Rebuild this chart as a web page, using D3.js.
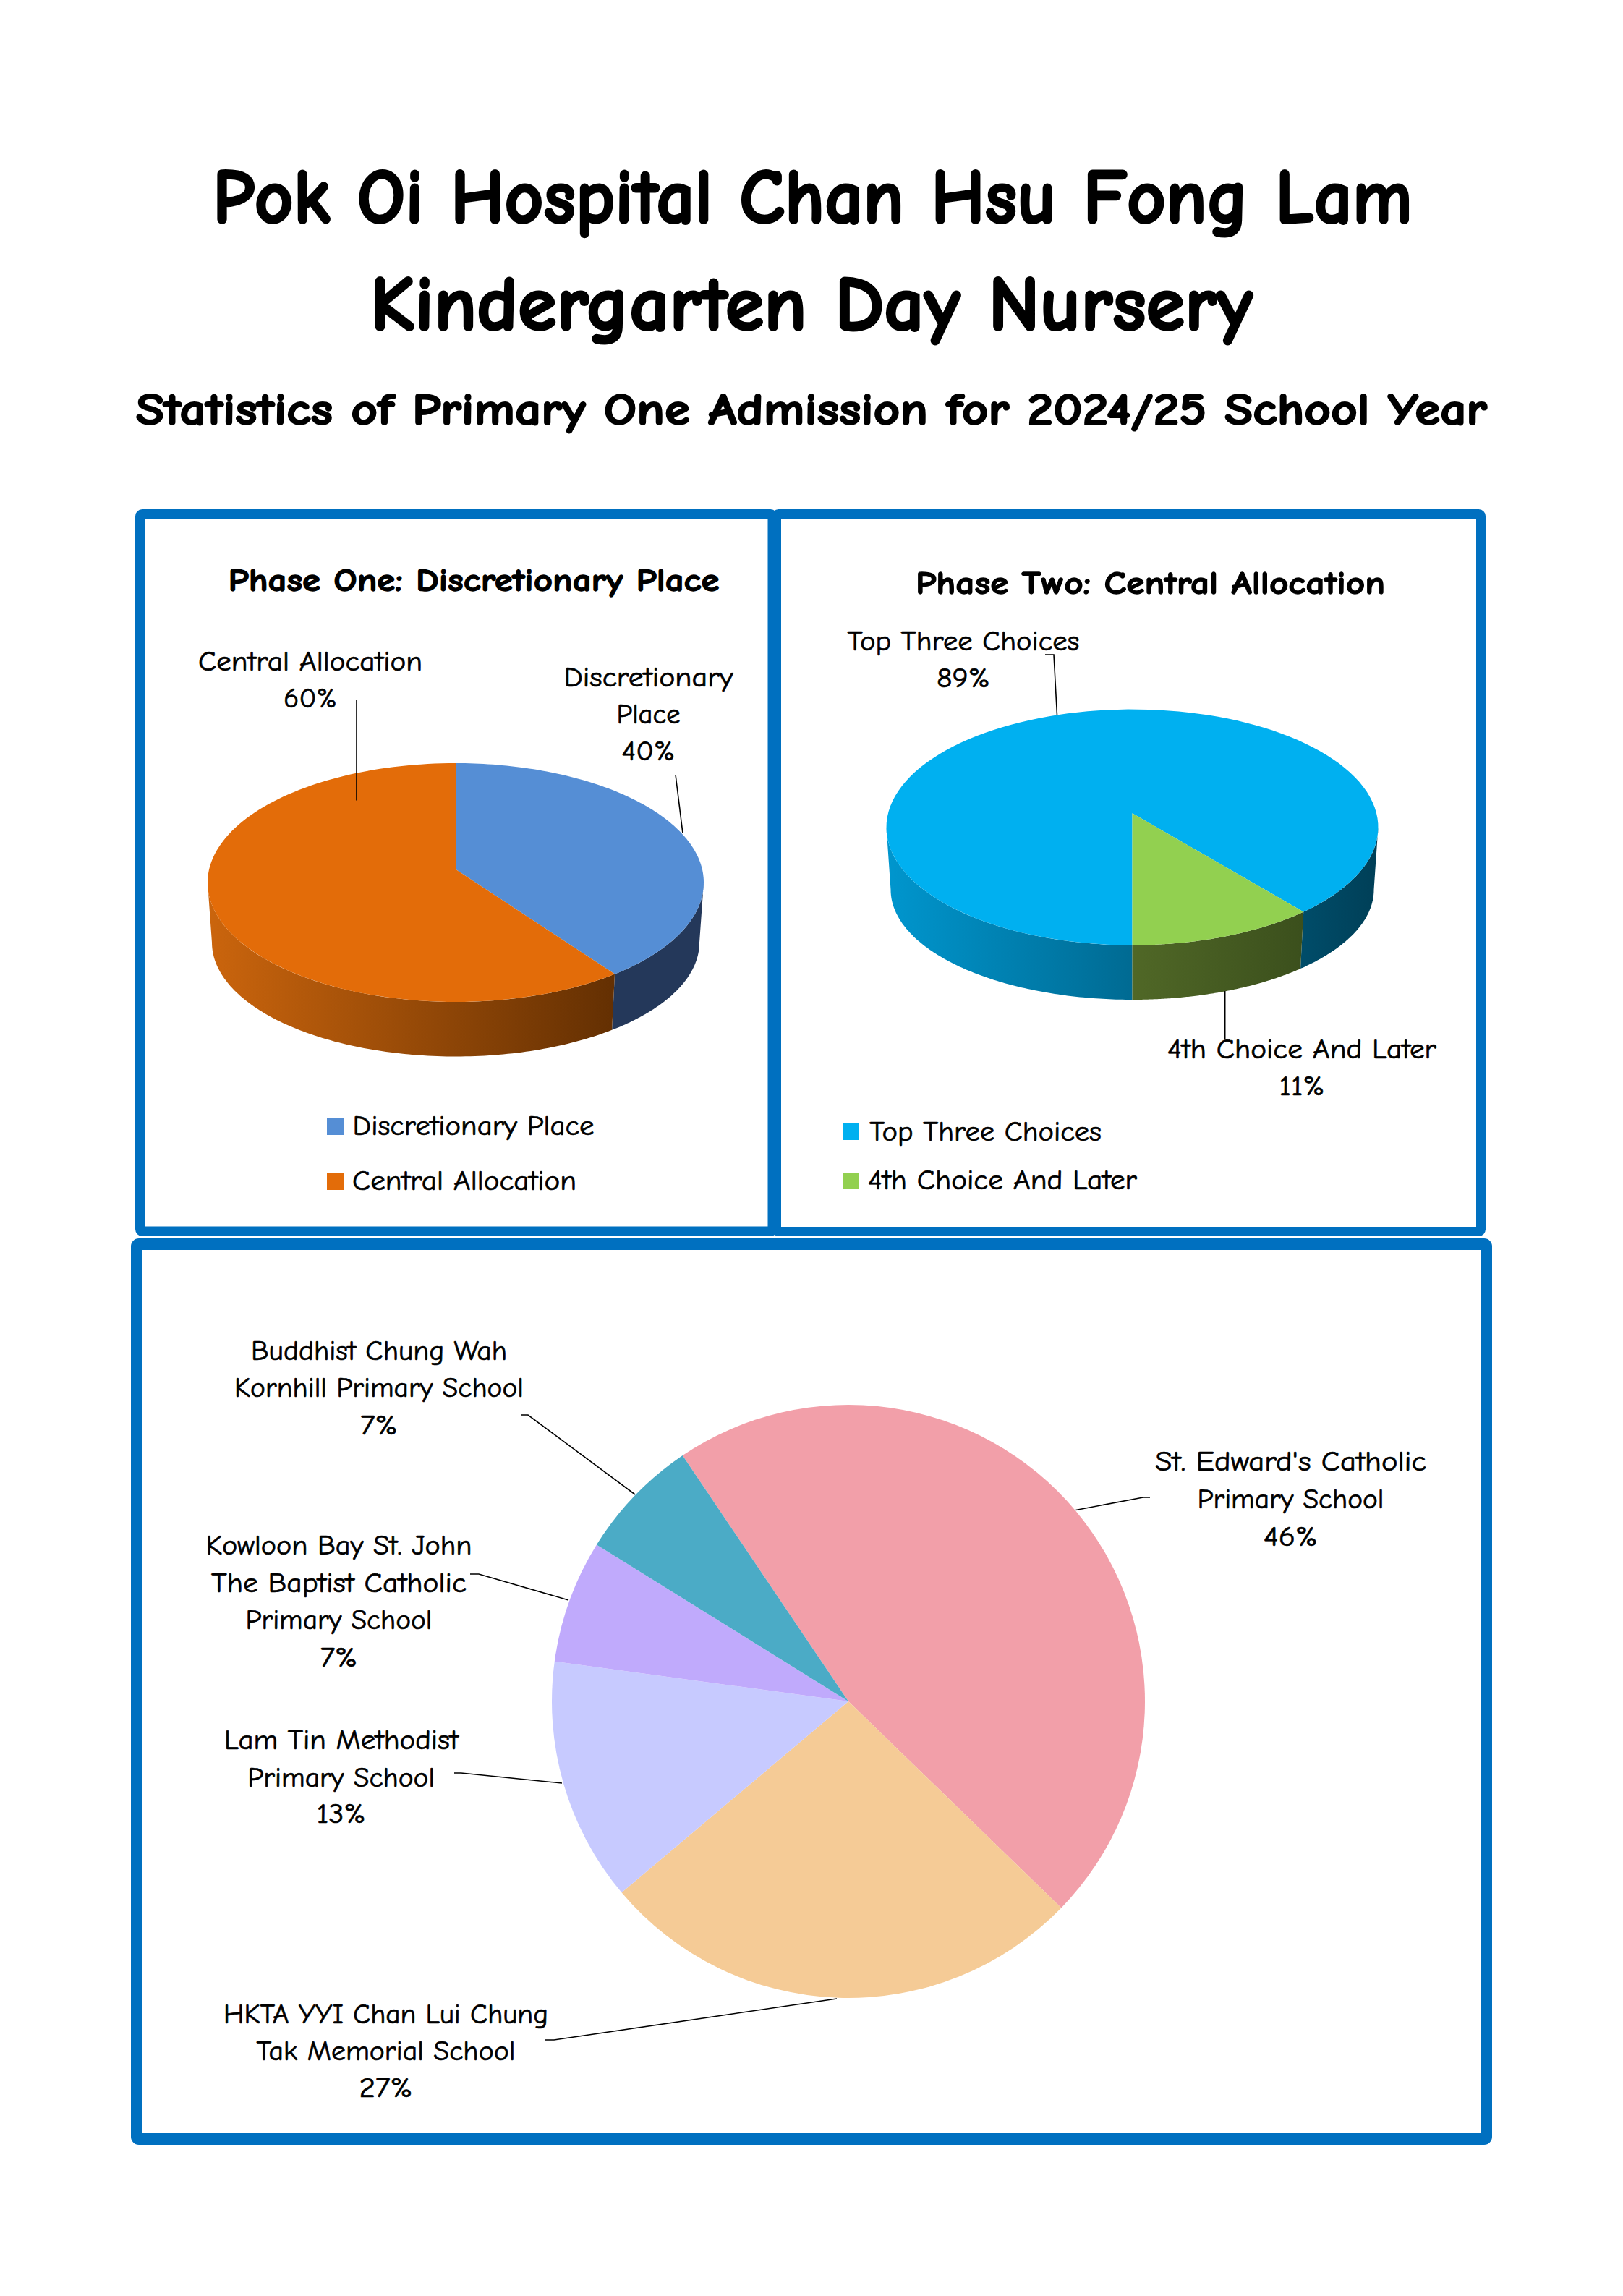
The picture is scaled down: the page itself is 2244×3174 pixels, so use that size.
<!DOCTYPE html>
<html>
<head>
<meta charset="utf-8">
<script src="https://cdn.jsdelivr.net/npm/d3@7/dist/d3.min.js"></script>
<style>
html,body{margin:0;padding:0;background:#fff}
svg{display:block}
text{font-family:"Comic Sans MS","Comic Neue","Open Sans",sans-serif;fill:#000}
</style>
</head>
<body>
<script>
// ---------- data ----------
const phaseOneCategories = ["Discretionary Place", "Central Allocation"];
const phaseOneValues = [40, 60];
const phaseOneLabels = ["40%", "60%"];
const phaseTwoCategories = ["Top Three Choices", "4th Choice And Later"];
const phaseTwoValues = [89, 11];
const phaseTwoLabels = ["89%", "11%"];
const schoolCategories = ["St. Edward's Catholic Primary School", "HKTA YYI Chan Lui Chung Tak Memorial School", "Lam Tin Methodist Primary School", "Kowloon Bay St. John The Baptist Catholic Primary School", "Buddhist Chung Wah Kornhill Primary School"];
const schoolValues = [46.7, 26.6, 13.3, 6.7, 6.7];
const schoolLabels = ["46%", "27%", "13%", "7%", "7%"];

// ---------- styles ----------
const BLUE = "#0070c0";
const phaseOneColors = ["#558ed5", "#e36c09"];
const phaseOneSides = [["#24385a", "#24385a"], ["#cb650d", "#4d2400"]];
const phaseTwoColors = ["#00b0f0", "#92d050"];
const phaseTwoSides = [["#0096ce", "#003f57"], ["#6e8a35", "#324518"]];
const schoolColors = ["#f29fa9", "#f5cb96", "#c7caff", "#c0aafc", "#4babc6"];

const W = 2244, H = 3174;
const svg = d3.select("body").append("svg").attr("width", W).attr("height", H).attr("viewBox", `0 0 ${W} ${H}`);
const defs = svg.append("defs");
svg.append("rect").attr("width", W).attr("height", H).attr("fill", "#fff");

// ---------- helpers ----------
function label(cx, lines, opts) {
  lines.forEach(l => {
    const t = svg.append("text")
      .attr("x", l.x !== undefined ? l.x : cx).attr("y", l.y)
      .attr("text-anchor", opts.anchor || "middle")
      .attr("font-size", opts.size)
      .attr("font-weight", opts.weight || 400)
      .attr("stroke", "#000")
      .attr("stroke-width", opts.stroke === undefined ? 0.7 : opts.stroke)
      .attr("stroke-linejoin", "round")
      .text(l.t);
    if (l.w) t.attr("textLength", l.w).attr("lengthAdjust", "spacingAndGlyphs");
  });
}
const lineGen = d3.line();
function leader(points) {
  svg.append("path").attr("d", lineGen(points)).attr("fill", "none").attr("stroke", "#000").attr("stroke-width", 1.6);
}
function panel(x0, y0, x1, y1, t) {
  svg.append("rect").attr("x", x0 + t / 2).attr("y", y0 + t / 2)
    .attr("width", x1 - x0 - t).attr("height", y1 - y0 - t)
    .attr("rx", 3).attr("fill", "none").attr("stroke", BLUE).attr("stroke-width", t);
}
function project(a, e, b) {
  const u = Math.sin(a), v = Math.cos(a), d = 1 + b * v;
  return [e.cx + e.rx * u * Math.sqrt(1 - b * b) / d, e.cy - e.ry * (v + b) / d];
}
function pie3d(id, values, colors, sides, startDeg, top, bottom, b) {
  const start = startDeg * Math.PI / 180;
  const arcs = d3.pie().sort(null).startAngle(start).endAngle(start + 2 * Math.PI)(values);
  const sample = (a0, a1) => d3.range(0, 121).map(i => a0 + (a1 - a0) * i / 120);
  // the wall runs between the two points where the rim is widest
  const rimRight = Math.acos(-b), rimLeft = 2 * Math.PI - rimRight;
  arcs.forEach((d, i) => {
    const g = defs.append("linearGradient").attr("id", `${id}-side-${i}`)
      .attr("gradientUnits", "userSpaceOnUse")
      .attr("x1", top.cx - top.rx).attr("x2", top.cx + top.rx).attr("y1", 0).attr("y2", 0);
    g.append("stop").attr("offset", 0).attr("stop-color", sides[i][0]);
    g.append("stop").attr("offset", 1).attr("stop-color", sides[i][1]);
    [0, 2 * Math.PI].forEach(k => {
      const lo = Math.max(d.startAngle, rimRight + k), hi = Math.min(d.endAngle, rimLeft + k);
      if (hi <= lo) return;
      const ang = sample(lo, hi);
      const pts = ang.map(a => project(a, top, b)).concat(ang.slice().reverse().map(a => project(a, bottom, b)));
      svg.append("path").attr("d", lineGen(pts) + "Z").attr("fill", `url(#${id}-side-${i})`);
    });
  });
  // top faces
  arcs.forEach((d, i) => {
    const pts = [[top.cx, top.cy - top.ry * b]].concat(sample(d.startAngle, d.endAngle).map(a => project(a, top, b)));
    svg.append("path").attr("d", lineGen(pts) + "Z").attr("fill", colors[i]);
  });
}

// ---------- headings ----------
label(1121, [
  { t: "Pok Oi Hospital Chan Hsu Fong Lam", y: 308, x: 1123.5, w: 1659 },
  { t: "Kindergarten Day Nursery", y: 456, x: 1122, w: 1220 }
], { size: 107, weight: 700, stroke: 3 });
label(1121, [
  { t: "Statistics of Primary One Admission for 2024/25 School Year", y: 587, x: 1122, w: 1868 }
], { size: 63, weight: 700, stroke: 2 });

// ---------- panels ----------
panel(187, 704, 1075, 1709, 13.5);
panel(1067, 704, 2054, 1709, 13);
panel(181, 1712, 2063, 2965, 16);

// ---------- phase one ----------
label(655, [{ t: "Phase One: Discretionary Place", y: 817, x: 655, w: 679 }], { size: 45, weight: 700, stroke: 1.3 });
pie3d("p1", phaseOneValues, phaseOneColors, phaseOneSides, 0,
  { cx: 630, cy: 1220, rx: 343, ry: 165 }, { cx: 630, cy: 1303, rx: 337, ry: 157.5 }, 0.11);
leader([[493, 967], [493, 1106.5]]);
leader([[934, 1071], [944, 1152]]);
label(429, [
  { t: "Central Allocation", y: 926.5, w: 310 },
  { t: phaseOneLabels[1], y: 978, w: 74 }
], { size: 38 });
label(896.5, [
  { t: "Discretionary", y: 948.5, w: 234 },
  { t: "Place", y: 1000, w: 88 },
  { t: phaseOneLabels[0], y: 1051, w: 74 }
], { size: 38 });
svg.append("g").selectAll("rect").data(phaseOneCategories).join("rect")
  .attr("x", 452).attr("y", (d, i) => [1546, 1622][i]).attr("width", 23).attr("height", 23)
  .attr("fill", (d, i) => phaseOneColors[i]);
label(0, [
  { t: phaseOneCategories[0], x: 487.5, y: 1569, w: 334 },
  { t: phaseOneCategories[1], x: 487, y: 1645, w: 310 }
], { size: 38, anchor: "start" });

// ---------- phase two ----------
label(1590, [{ t: "Phase Two: Central Allocation", y: 821, x: 1590.5, w: 649 }], { size: 45, weight: 700, stroke: 1.3 });
pie3d("p2", phaseTwoValues, phaseTwoColors, phaseTwoSides, 180,
  { cx: 1565.5, cy: 1143.6, rx: 340, ry: 163 }, { cx: 1565.5, cy: 1230, rx: 334, ry: 152 }, 0.118);
leader([[1445, 905], [1457, 905], [1461.5, 988.5]]);
leader([[1693.7, 1370], [1693.7, 1436]]);
label(1332, [
  { t: phaseTwoCategories[0], y: 899, w: 321 },
  { t: phaseTwoLabels[0], y: 950, w: 74 }
], { size: 38 });
label(1800, [
  { t: phaseTwoCategories[1], y: 1463, w: 372 },
  { t: phaseTwoLabels[1], y: 1514, w: 63 }
], { size: 38 });
svg.append("g").selectAll("rect").data(phaseTwoCategories).join("rect")
  .attr("x", 1165).attr("y", (d, i) => [1553, 1621][i]).attr("width", 23).attr("height", 23)
  .attr("fill", (d, i) => phaseTwoColors[i]);
label(0, [
  { t: phaseTwoCategories[0], x: 1202, y: 1577, w: 321 },
  { t: phaseTwoCategories[1], x: 1200, y: 1644, w: 372 }
], { size: 38, anchor: "start" });

// ---------- school destinations ----------
const schoolStart = -34 * Math.PI / 180;
const schoolArcs = d3.pie().sort(null).startAngle(schoolStart).endAngle(schoolStart + 2 * Math.PI)(schoolValues);
const schoolArc = d3.arc().innerRadius(0).outerRadius(410);
svg.append("g").attr("transform", "translate(1173,2352)")
  .selectAll("path").data(schoolArcs).join("path")
  .attr("d", schoolArc).attr("fill", (d, i) => schoolColors[i]);
leader([[1487.5, 2087.5], [1580.5, 2070], [1590, 2070]]);
leader([[753.5, 2820], [766, 2820], [1157, 2763]]);
leader([[628, 2451], [637.5, 2451], [777, 2465]]);
leader([[650, 2176], [662, 2176], [786, 2212]]);
leader([[720, 1956], [730, 1956], [878, 2066]]);
label(1784.5, [
  { t: "St. Edward's Catholic", y: 2033, w: 375 },
  { t: "Primary School", y: 2085, w: 258 },
  { t: schoolLabels[0], y: 2137, w: 75 }
], { size: 38 });
label(533.5, [
  { t: "HKTA YYI Chan Lui Chung", y: 2796.5, w: 449 },
  { t: "Tak Memorial School", y: 2848, w: 358 },
  { t: schoolLabels[1], y: 2899, w: 74 }
], { size: 38 });
label(471.7, [
  { t: "Lam Tin Methodist", y: 2417.5, w: 324 },
  { t: "Primary School", y: 2469.5, w: 259 },
  { t: schoolLabels[2], y: 2520, w: 68 }
], { size: 38 });
label(468.5, [
  { t: "Kowloon Bay St. John", y: 2148.5, w: 368 },
  { t: "The Baptist Catholic", y: 2200.5, w: 353 },
  { t: "Primary School", y: 2252, w: 258 },
  { t: schoolLabels[3], y: 2303.5, w: 52 }
], { size: 38 });
label(524, [
  { t: "Buddhist Chung Wah", y: 1879.5, w: 354 },
  { t: "Kornhill Primary School", y: 1931, w: 400 },
  { t: schoolLabels[4], y: 1982.5, w: 52 }
], { size: 38 });
</script>
</body>
</html>
